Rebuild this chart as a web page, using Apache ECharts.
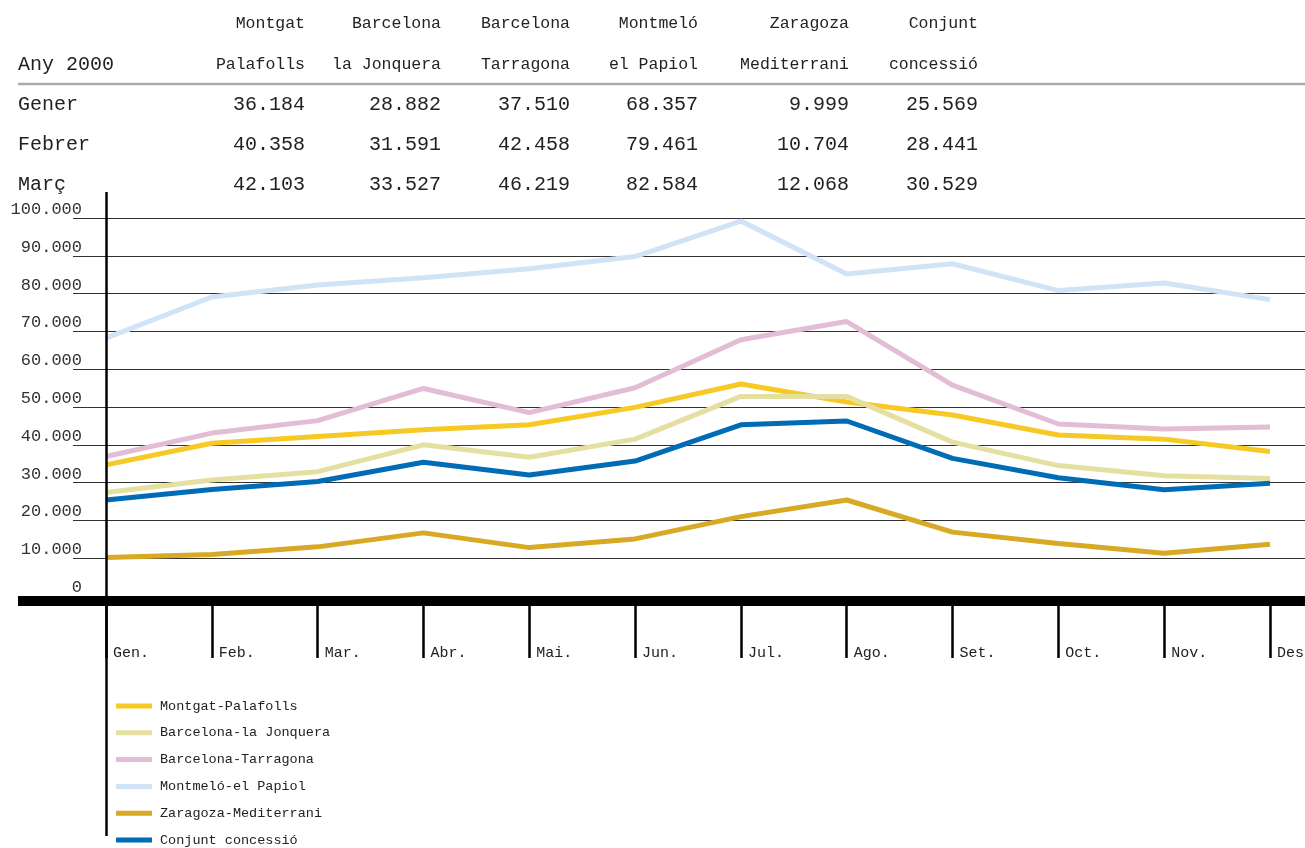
<!DOCTYPE html>
<html>
<head>
<meta charset="utf-8">
<script src="https://cdn.jsdelivr.net/npm/echarts@6/dist/echarts.min.js"></script>
<style>
html,body{margin:0;padding:0;background:#fff;}
#chart{width:1305px;height:848px;}
</style>
</head>
<body>
<div id="chart"></div>
<script>
// ---- Data ----
const months = ['Gen.','Feb.','Mar.','Abr.','Mai.','Jun.','Jul.','Ago.','Set.','Oct.','Nov.','Des'];
const yTickLabels = ['0','10.000','20.000','30.000','40.000','50.000','60.000','70.000','80.000','90.000','100.000'];

const seriesNames = ['Montgat-Palafolls','Barcelona-la Jonquera','Barcelona-Tarragona','Montmeló-el Papiol','Zaragoza-Mediterrani','Conjunt concessió'];
const montgatPalafolls   = [34700, 40400, 42200, 44000, 45300, 49900, 56100, 51300, 47900, 42600, 41500, 38200];
const barcelonaJonquera  = [27400, 30700, 32900, 40000, 36700, 41500, 52800, 52800, 40700, 34500, 31800, 31100];
const barcelonaTarragona = [36900, 43100, 46400, 54900, 48500, 55100, 67800, 72600, 55800, 45500, 44200, 44700];
const montmeloPapiol     = [68200, 79100, 82300, 84200, 86600, 89800, 99200, 85200, 87900, 80800, 82800, 78400];
const zaragozaMed        = [10200, 11000, 13000, 16700, 12800, 15100, 21000, 25400, 16900, 13900, 11300, 13700];
const conjuntConcessio   = [25400, 28200, 30300, 35400, 32000, 35700, 45300, 46300, 36400, 31300, 28100, 29800];

// table in the header
const tableTitle = 'Any 2000';
const headerTop = ['Montgat','Barcelona','Barcelona','Montmeló','Zaragoza','Conjunt'];
const headerBottom = ['Palafolls','la Jonquera','Tarragona','el Papiol','Mediterrani','concessió'];
const tableMonths = ['Gener','Febrer','Març'];
const tableValues = [
  ['36.184','28.882','37.510','68.357','9.999','25.569'],
  ['40.358','31.591','42.458','79.461','10.704','28.441'],
  ['42.103','33.527','46.219','82.584','12.068','30.529']
];

// ---- Styles ----
const colors = ['#F6C924','#E5DFA1','#E3BDD5','#D0E3F7','#D8A925','#006CB6'];
const mono = '"Liberation Mono", "Courier New", monospace';

const chart = echarts.init(document.getElementById('chart'), null, {renderer: 'canvas'});

const seriesData = [montgatPalafolls, barcelonaJonquera, barcelonaTarragona, montmeloPapiol, zaragozaMed, conjuntConcessio];

// table graphics
const colRight = [305, 441, 570, 698, 849, 978];
const rowY = [24, 65, 105, 145, 185];
const graphics = [];
graphics.push({type:'text', x: 18, y: rowY[1], style:{text: tableTitle, font: '20px ' + mono, fill:'#222', textAlign:'left', textVerticalAlign:'middle'}});
headerTop.forEach((t,i)=>{
  graphics.push({type:'text', x: colRight[i], y: rowY[0], style:{text:t, font:'16.5px ' + mono, fill:'#222', textAlign:'right', textVerticalAlign:'middle'}});
});
headerBottom.forEach((t,i)=>{
  graphics.push({type:'text', x: colRight[i], y: rowY[1], style:{text:t, font:'16.5px ' + mono, fill:'#222', textAlign:'right', textVerticalAlign:'middle'}});
});
graphics.push({type:'line', shape:{x1:18, y1:84, x2:1305, y2:84}, style:{stroke:'#aaaaaa', lineWidth:2.5}});
tableMonths.forEach((m,r)=>{
  graphics.push({type:'text', x: 18, y: rowY[2+r], style:{text:m, font:'20px ' + mono, fill:'#222', textAlign:'left', textVerticalAlign:'middle'}});
  tableValues[r].forEach((v,i)=>{
    graphics.push({type:'text', x: colRight[i], y: rowY[2+r], style:{text:v, font:'20px ' + mono, fill:'#222', textAlign:'right', textVerticalAlign:'middle'}});
  });
});

const option = {
  backgroundColor: '#ffffff',
  animation: false,
  color: colors,
  graphic: graphics,
  legend: {
    orient: 'vertical',
    left: 116,
    top: 699,
    padding: 0,
    icon: 'rect',
    itemWidth: 36,
    itemHeight: 5,
    itemGap: 12.8,
    selectedMode: false,
    data: seriesNames,
    textStyle: {fontFamily: mono, fontSize: 13.5, color: '#222', lineHeight: 14, padding: [0,0,0,3]}
  },
  grid: [
    {left: 106, top: 218, width: 1164, height: 378, outerBoundsMode: 'none', containLabel: false},
    {left: 73, right: 0, top: 218, height: 378, outerBoundsMode: 'none', containLabel: false},
    {left: 18, right: 0, top: 218, height: 383, outerBoundsMode: 'none', containLabel: false},
    {left: 106, width: 10, top: 192, height: 644, outerBoundsMode: 'none', containLabel: false}
  ],
  xAxis: [
    {
      gridIndex: 0, type: 'category', data: months, boundaryGap: false, z: 10,
      axisLine: {show: false},
      axisTick: {show: true, length: 62, interval: 0, lineStyle: {color: '#000', width: 2.5}},
      axisLabel: {show: true, interval: 0, align: 'left', padding: [0,0,0,7], margin: 50,
                  fontFamily: mono, fontSize: 15, lineHeight: 15, color: '#222', hideOverlap: false},
      splitLine: {show: false}
    },
    {gridIndex: 1, type: 'value', min: 0, max: 1, show: false},
    {
      gridIndex: 2, type: 'value', min: 0, max: 1, z: 9,
      axisLine: {show: true, lineStyle: {color: '#000', width: 10, cap: 'butt'}},
      axisTick: {show: false}, axisLabel: {show: false}, splitLine: {show: false}
    },
    {gridIndex: 3, type: 'value', min: 0, max: 1, show: false}
  ],
  yAxis: [
    {gridIndex: 0, type: 'value', min: 0, max: 100000, interval: 10000, show: false},
    {
      gridIndex: 1, type: 'value', min: 0, max: 100000, interval: 10000,
      axisLine: {show: false}, axisTick: {show: false},
      axisLabel: {show: true, margin: -9, verticalAlign: 'bottom', fontFamily: mono, fontSize: 17, lineHeight: 17, color: '#333',
                  formatter: (v) => yTickLabels[Math.round(v / 10000)]},
      splitLine: {show: true, lineStyle: {color: '#333', width: 1}}
    },
    {gridIndex: 2, type: 'value', min: 0, max: 1, show: false},
    {
      gridIndex: 3, type: 'value', min: 0, max: 1, z: 10,
      axisLine: {show: true, lineStyle: {color: '#000', width: 2.5, cap: 'butt'}},
      axisTick: {show: false}, axisLabel: {show: false}, splitLine: {show: false}
    }
  ],
  series: seriesNames.map((name, i) => ({
    name: name,
    type: 'line',
    xAxisIndex: 0,
    yAxisIndex: 0,
    data: seriesData[i],
    showSymbol: false,
    symbol: 'none',
    lineStyle: {width: 5, color: colors[i]},
    itemStyle: {color: colors[i]},
    z: 3
  }))
};
chart.setOption(option);
</script>
</body>
</html>
